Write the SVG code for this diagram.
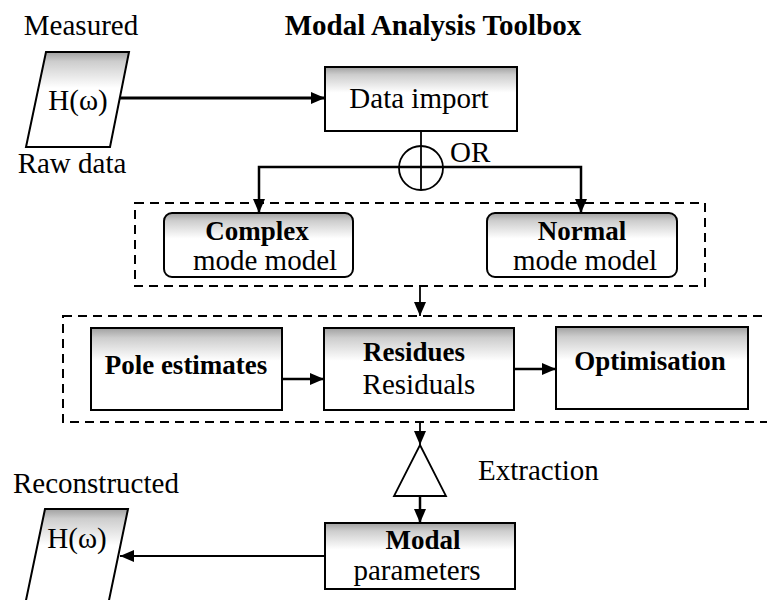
<svg xmlns="http://www.w3.org/2000/svg" width="767" height="600" viewBox="0 0 767 600" font-family="'Liberation Serif', 'Times New Roman', 'DejaVu Serif', Times, serif">
<defs>
  <linearGradient id="shade" x1="0" y1="0" x2="0" y2="1">
    <stop offset="0" stop-color="#a0a0a0"/>
    <stop offset="0.12" stop-color="#cdcdcd"/>
    <stop offset="0.4" stop-color="#ffffff"/>
    <stop offset="1" stop-color="#ffffff"/>
  </linearGradient>
  <linearGradient id="shadeP" x1="0" y1="0" x2="0" y2="1">
    <stop offset="0" stop-color="#a0a0a0"/>
    <stop offset="0.1" stop-color="#cdcdcd"/>
    <stop offset="0.38" stop-color="#ffffff"/>
    <stop offset="1" stop-color="#ffffff"/>
  </linearGradient>
  <marker id="ah" markerWidth="14" markerHeight="12" refX="14" refY="6" orient="auto" markerUnits="userSpaceOnUse">
    <path d="M0,0 L14,6 L0,12 z" fill="#000"/>
  </marker>
</defs>
<style>
  text { font-family: 'Liberation Serif', 'Times New Roman', 'DejaVu Serif', Times, serif; fill: #000; }
  .t { font-size: 29px; font-weight: normal; }
  .b { font-size: 27px; font-weight: bold; }
  .title { font-size: 29px; font-weight: bold; }
  .box { fill: url(#shade); stroke: #000; stroke-width: 2; }
  .para { fill: url(#shadeP); stroke: #000; stroke-width: 2; }
  .dash { fill: none; stroke: #000; stroke-width: 2; stroke-dasharray: 9 6; }
  .conn { fill: none; stroke: #000; }
  .thick { stroke-width: 3; }
  .med { stroke-width: 2.5; }
  .thin { stroke-width: 1.8; }
</style>

<g id="title">
  <text class="title" x="433" y="35" text-anchor="middle">Modal Analysis Toolbox</text>
</g>

<g id="measured">
  <text class="t" x="81" y="35" text-anchor="middle">Measured</text>
  <polygon class="para" points="46,52 129,52 110,147 26,147"/>
  <text class="t" x="78" y="110" text-anchor="middle">H(ω)</text>
  <text class="t" x="72" y="173" text-anchor="middle">Raw data</text>
</g>

<g id="data-import">
  <rect class="box" x="325" y="67" width="192" height="64"/>
  <text class="t" x="419" y="108" text-anchor="middle">Data import</text>
</g>

<g id="or-junction">
  <circle cx="421" cy="168" r="22" fill="none" stroke="#000" stroke-width="1.8"/>
  <text class="t" x="450" y="162">OR</text>
</g>

<g id="mode-group">
  <rect class="dash" x="135" y="203" width="570" height="83"/>
</g>

<g id="complex">
  <rect class="box" x="164" y="213" width="189" height="64" rx="8"/>
  <text class="b" x="257" y="240" text-anchor="middle">Complex</text>
  <text class="t" x="265" y="270" text-anchor="middle">mode model</text>
</g>

<g id="normal">
  <rect class="box" x="487" y="213" width="190" height="64" rx="8"/>
  <text class="b" x="582" y="240" text-anchor="middle">Normal</text>
  <text class="t" x="585" y="270" text-anchor="middle">mode model</text>
</g>

<g id="estimation-group">
  <rect class="dash" x="63" y="316" width="720" height="106"/>
</g>

<g id="pole-estimates">
  <rect class="box" x="91" y="328" width="191" height="82"/>
  <text class="b" x="186" y="374" text-anchor="middle">Pole estimates</text>
</g>

<g id="residues">
  <rect class="box" x="324" y="328" width="190" height="82"/>
  <text class="b" x="414" y="361" text-anchor="middle">Residues</text>
  <text class="t" x="419" y="394" text-anchor="middle">Residuals</text>
</g>

<g id="optimisation">
  <rect class="box" x="556" y="327" width="192" height="82"/>
  <text class="b" x="650" y="370" text-anchor="middle">Optimisation</text>
</g>

<g id="extraction">
  <polygon points="420,445 446,496 394,496" fill="#fff" stroke="#000" stroke-width="1.8"/>
  <text class="t" x="478" y="480">Extraction</text>
</g>

<g id="modal-parameters">
  <rect class="box" x="325" y="523" width="190" height="66"/>
  <text class="b" x="423" y="549" text-anchor="middle">Modal</text>
  <text class="t" x="417" y="580" text-anchor="middle">parameters</text>
</g>

<g id="reconstructed">
  <text class="t" x="13" y="493">Reconstructed</text>
  <polygon class="para" points="45,509 128,509 108,605 25,605"/>
  <text class="t" x="77" y="548" text-anchor="middle">H(ω)</text>
</g>

<g id="connectors">
  <path class="conn thick" d="M120,98 H325" marker-end="url(#ah)"/>
  <path class="conn thin" d="M421,131 V190"/>
  <path class="conn med" d="M421,167 H259 V213" marker-end="url(#ah)"/>
  <path class="conn med" d="M421,167 H581 V213" marker-end="url(#ah)"/>
  <path class="conn thin" d="M420,286 V316" marker-end="url(#ah)"/>
  <path class="conn med" d="M282,379 H324" marker-end="url(#ah)"/>
  <path class="conn med" d="M514,369 H556" marker-end="url(#ah)"/>
  <path class="conn thin" d="M420,422 V445" marker-end="url(#ah)"/>
  <path class="conn med" d="M420,496 V523" marker-end="url(#ah)"/>
  <path class="conn thin" d="M325,556 H120" marker-end="url(#ah)"/>
</g>
</svg>
